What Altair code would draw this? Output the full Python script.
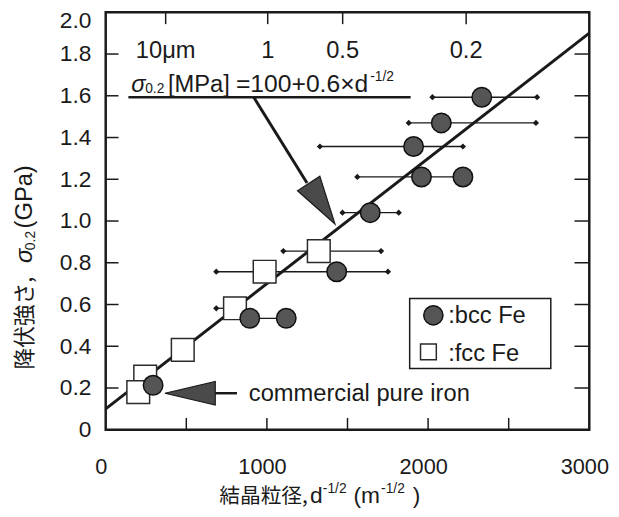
import altair as alt
import pandas as pd

# ---------------- data ----------------
bcc_x = [2333, 2082, 1910, 1959, 2216, 1641, 1433, 894, 1120, 294]
bcc_y = [1.593, 1.470, 1.357, 1.211, 1.211, 1.040, 0.757, 0.534, 0.534, 0.213]
fcc_x = [1322, 986, 802, 478, 245, 202]
fcc_y = [0.856, 0.757, 0.582, 0.383, 0.255, 0.180]

bar_lo = [2027, 1880, 1329, 1561, 1469, 686, 1102, 686, 894]
bar_hi = [2676, 2669, 2216, 2216, 1818, 1751, 1708, 802, 1120]
bar_y = [1.593, 1.470, 1.357, 1.211, 1.040, 0.757, 0.856, 0.582, 0.534]

fit_x = [0, 3000]
fit_y = [0.1, 1.9]

x_label_vals = [0, 1000, 2000, 3000]
y_label_vals = [0, 0.2, 0.4, 0.6, 0.8, 1.0, 1.2, 1.4, 1.6, 1.8, 2.0]
x_minor_ticks = [500, 1000, 1500, 2000, 2500]
y_minor_ticks = [0.2, 0.4, 0.6, 0.8, 1.0, 1.2, 1.4, 1.6, 1.8]
top_tick_pos = [372, 1005, 1470, 2236]
top_tick_lab = ["10\u03bcm", "1", "0.5", "0.2"]

# ---------------- layout constants ----------------
W, H = 490, 423
OX, OY = 107, 9          # page position of the plot origin
LAT = "Liberation Sans, Arial, Helvetica, sans-serif"
CJK = "Noto Sans CJK JP"
INK = "#1a1a1a"

xs = alt.Scale(domain=[0, 3000], nice=False, zero=False)
ys = alt.Scale(domain=[0, 2.0], nice=False, zero=False)
xaxis = alt.Axis(values=x_label_vals, title=None, ticks=False, domain=False, grid=False,
                 format="d", labelFontSize=22, labelFont=LAT, labelColor=INK,
                 labelPadding=27, labelOffset=-5, labelFlush=False, labelBound=False)
yaxis = alt.Axis(values=y_label_vals, title=None, ticks=False, domain=False, grid=False,
                 labelFontSize=23, labelFont=LAT, labelColor=INK, labelPadding=15,
                 labelFlush=False, labelBound=False,
                 labelOffset={"condition": {"test": "datum.value >= 2", "value": 8}, "value": 0},
                 labelExpr="datum.value == 0 ? '0' : format(datum.value, '.1f')")


def X(f):
    return alt.X(f"{f}:Q", scale=xs, axis=xaxis)


def Y(f):
    return alt.Y(f"{f}:Q", scale=ys, axis=yaxis)


one = pd.DataFrame({"k": [0]})


def txt(text, x, y, size=24, font=LAT, align="left", baseline="alphabetic", **kw):
    return alt.Chart(one).mark_text(text=text, fontSize=size, font=font, align=align,
                                    baseline=baseline, color=INK, **kw).encode(
        x=alt.value(x - OX), y=alt.value(y - OY))


def seg(x1, y1, x2, y2, w=2.5):
    return alt.Chart(one).mark_rule(color=INK, strokeWidth=w).encode(
        x=alt.value(x1 - OX), y=alt.value(y1 - OY),
        x2=alt.value(x2 - OX), y2=alt.value(y2 - OY))


def tri(path, cx, cy, size, angle=0):
    return alt.Chart(one).mark_point(shape=path, size=size, filled=True, fill="#4a4a4a",
                                     stroke=INK, strokeWidth=1.2, opacity=1,
                                     angle=angle).encode(
        x=alt.value(cx - OX), y=alt.value(cy - OY))


# ---------------- data tables ----------------
bcc = pd.DataFrame({"x": bcc_x, "y": bcc_y})
fcc = pd.DataFrame({"x": fcc_x, "y": fcc_y})
bars = pd.DataFrame({"lo": bar_lo, "hi": bar_hi, "y": bar_y})
ends = pd.DataFrame({"x": bar_lo + bar_hi, "y": bar_y + bar_y})
fit = pd.DataFrame({"x": fit_x, "y": fit_y})
xt = pd.DataFrame({"x": x_minor_ticks})
yt = pd.DataFrame({"y": y_minor_ticks})
tt = pd.DataFrame({"x": top_tick_pos, "lab": top_tick_lab})

# ---------------- layers ----------------
fit_line = alt.Chart(fit).mark_line(color=INK, strokeWidth=3).encode(x=X("x"), y=Y("y"))

err = alt.Chart(bars).mark_rule(color=INK, strokeWidth=1.3).encode(
    x=X("lo"), x2="hi:Q", y=Y("y"))
err_ends = alt.Chart(ends).mark_point(shape="diamond", filled=True, size=40,
                                      color=INK, opacity=1).encode(x=X("x"), y=Y("y"))

squares = alt.Chart(fcc).mark_point(shape="square", size=530, filled=True, fill="white",
                                    stroke="#2a2a2a", strokeWidth=1.5, opacity=1).encode(
    x=X("x"), y=Y("y"))
circles = alt.Chart(bcc).mark_point(shape="circle", size=390, filled=True, fill="#555555",
                                    stroke="#111111", strokeWidth=1.5, opacity=1).encode(
    x=X("x"), y=Y("y"))

tick_b = alt.Chart(xt).mark_rule(color=INK, strokeWidth=1.5).encode(
    x=X("x"), y=alt.value(H), y2=alt.value(H - 12))
tick_t = alt.Chart(tt).mark_rule(color=INK, strokeWidth=1.5).encode(
    x=X("x"), y=alt.value(0), y2=alt.value(12))
tick_l = alt.Chart(yt).mark_rule(color=INK, strokeWidth=1.5).encode(
    y=Y("y"), x=alt.value(0), x2=alt.value(13))
tick_r = alt.Chart(yt).mark_rule(color=INK, strokeWidth=1.5).encode(
    y=Y("y"), x=alt.value(W), x2=alt.value(W - 15))
top_labels = alt.Chart(tt).mark_text(fontSize=24, font=LAT, color=INK, align="center",
                                     baseline="alphabetic").encode(
    x=X("x"), y=alt.value(55 - OY), text="lab:N")

# equation annotation
eq = [
    txt("\u03c3", 133, 90, 24, fontStyle="italic"),
    txt("0.2", 147, 91, 14),
    txt("[MPa]", 170, 90, 24),
    txt("=100+0.6\u00d7d", 239, 90, 25),
    txt("-1/2", 375, 79, 14),
    seg(130, 95, 416, 95, 2.5),
    seg(257, 95, 311, 182, 3),
    tri("M0,1L-0.55,-1L0.55,-1Z", 326, 203, 2401, 327),
]

# commercial pure iron annotation
cpi = [
    tri("M-1,0L1,-0.47L1,0.47Z", 192.5, 395, 2601),
    seg(218, 395, 240, 395, 2.5),
    txt("commercial pure iron", 252, 403, 24),
]

# legend
leg = [
    alt.Chart(one).mark_rect(fill="white", stroke=INK, strokeWidth=1.5).encode(
        x=alt.value(415 - OX), x2=alt.value(558 - OX),
        y=alt.value(299 - OY), y2=alt.value(370 - OY)),
    alt.Chart(one).mark_point(shape="circle", size=380, filled=True, fill="#555555",
                              stroke="#111111", strokeWidth=1.5, opacity=1).encode(
        x=alt.value(439 - OX), y=alt.value(316 - OY)),
    alt.Chart(one).mark_point(shape="square", size=256, filled=True, fill="white",
                              stroke="#2a2a2a", strokeWidth=1.5, opacity=1).encode(
        x=alt.value(434 - OX), y=alt.value(353 - OY)),
    txt(":bcc Fe", 454, 324, 24),
    txt(":fcc Fe", 454, 362, 24),
]

# axis titles (with sub/superscripts)
titles = [
    txt("\u7d50\u6676\u7c92\u5f84,", 222, 506, 21, font=CJK),
    txt("d", 314, 506, 23),
    txt("-1/2", 327, 496, 14),
    txt("(m", 358, 506, 23),
    txt("-1/2", 386, 496, 14),
    txt(")", 418, 506, 23),
    txt("\u964d\u4f0f\u5f37\u3055,", 25, 371, 22, font=CJK, angle=270, baseline="middle"),
    txt("\u03c3", 25, 263, 24, angle=270, baseline="middle", fontStyle="italic"),
    txt("0.2", 31, 250, 14, angle=270, baseline="middle"),
    txt("(GPa)", 25, 228, 24, angle=270, baseline="middle"),
]

chart = alt.layer(
    fit_line, err, err_ends, squares, circles,
    tick_b, tick_t, tick_l, tick_r, top_labels,
    *eq, *cpi, *leg, *titles,
).properties(
    width=W, height=H,
    padding={"left": OX - 8, "top": OY - 8, "right": 22, "bottom": 80},
    autosize=alt.AutoSizeParams(type="none"),
    background="white",
).configure_view(stroke=INK, strokeWidth=2.5)

chart.save("out.html", embed_options={"renderer": "svg", "actions": False})
